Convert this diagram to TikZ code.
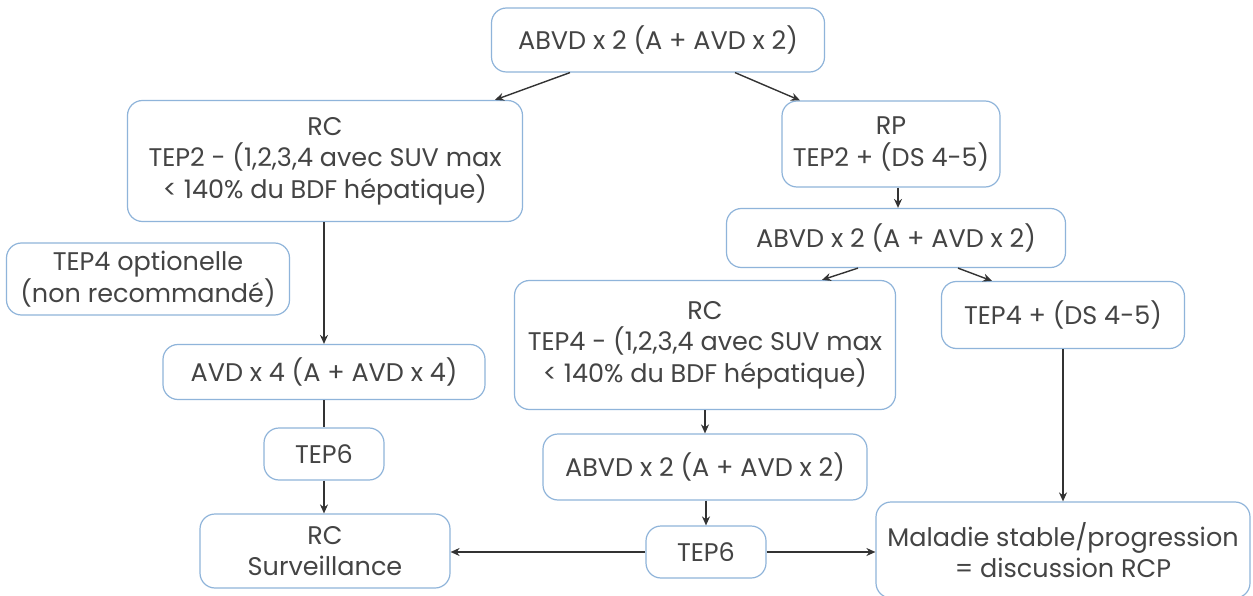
\documentclass[tikz,border=0pt]{standalone}
\usepackage{fontspec}
\setmainfont{Poppins}
\usetikzlibrary{arrows.meta}
\definecolor{boxline}{HTML}{8FB4DA}
\definecolor{ink}{HTML}{444444}
\definecolor{arrowink}{HTML}{333333}
\begin{document}
\begin{tikzpicture}[x=1pt,y=-1pt,
  box/.style={draw=boxline, line width=1.2pt, rounded corners=15pt, fill=white,
    text=ink, align=center, inner sep=0pt,
    font=\fontsize{25.5}{31.5}\selectfont},
  link/.style={draw=arrowink, line width=1.4pt},
  arr/.style={link, -{Stealth[length=9pt,width=8pt]}}]
\useasboundingbox (0,0) rectangle (1253,596);
\fill[white] (0,0) rectangle (1253,596);

% boxes: centre, then size
\node[box, minimum width=333pt, minimum height=64pt] (top) at (658,40) {ABVD x 2 (A + AVD x 2)};
\node[box, minimum width=395pt, minimum height=121pt] (rcA) at (325,161) {RC\\TEP2 - (1,2,3,4 avec SUV max\\< 140\% du BDF hépatique)};
\node[box, minimum width=218pt, minimum height=86pt] (rp) at (891,144) {RP\\TEP2 + (DS 4-5)};
\node[box, minimum width=283pt, minimum height=72pt] (opt) at (148,279) {TEP4 optionelle\\(non recommandé)};
\node[box, minimum width=339pt, minimum height=59pt] (abvdB) at (896,238) {ABVD x 2 (A + AVD x 2)};
\node[box, minimum width=381pt, minimum height=129pt] (rcB) at (705,345) {RC\\TEP4 - (1,2,3,4 avec SUV max\\< 140\% du BDF hépatique)};
\node[box, minimum width=243pt, minimum height=67pt] (tepfour) at (1063,315) {TEP4 + (DS 4-5)};
\node[box, minimum width=322pt, minimum height=55pt] (avd) at (324,372) {AVD x 4 (A + AVD x 4)};
\node[box, minimum width=120pt, minimum height=52pt] (tepsixA) at (324,454) {TEP6};
\node[box, minimum width=324pt, minimum height=66pt] (abvdC) at (705,467) {ABVD x 2 (A + AVD x 2)};
\node[box, minimum width=120pt, minimum height=52pt] (tepsixB) at (706,552) {TEP6};
\node[box, minimum width=250pt, minimum height=74pt] (surv) at (325,551) {RC\\Surveillance};
\node[box, minimum width=374pt, minimum height=96pt] (mal) at (1063,550) {Maladie stable/progression\\= discussion RCP};

% connectors
\draw[arr] (top.south -| 570,0) -- (rcA.north -| 495,0);
\draw[arr] (top.south -| 735,0) -- (rp.north -| 800,0);
\draw[arr] (rcA.south -| avd.north) -- (avd.north);
\draw[arr] (rp.south -| 898,0) -- (abvdB.north -| 898,0);
\draw[arr] (abvdB.south -| 858,0) -- (rcB.north -| 822,0);
\draw[arr] (abvdB.south -| 958,0) -- (tepfour.north -| 992,0);
\draw[link] (avd.south) -- (tepsixA.north);
\draw[arr] (tepsixA.south) -- (surv.north -| tepsixA.south);
\draw[arr] (rcB.south) -- (abvdC.north);
\draw[arr] (abvdC.south -| tepsixB.north) -- (tepsixB.north);
\draw[arr] (tepsixB.west) -- (surv.east |- tepsixB.west);
\draw[arr] (tepsixB.east) -- (mal.west |- tepsixB.east);
\draw[arr] (tepfour.south) -- (mal.north -| tepfour.south);
\end{tikzpicture}
\end{document}
